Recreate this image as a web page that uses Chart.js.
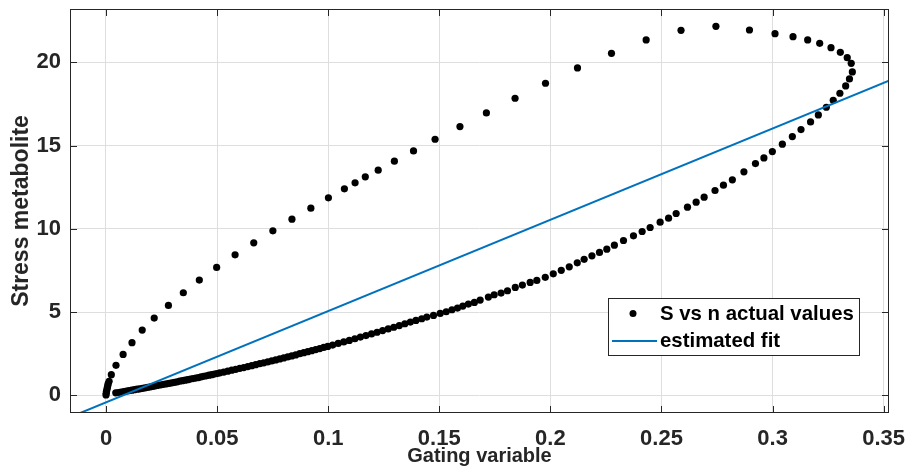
<!DOCTYPE html>
<html><head><meta charset="utf-8">
<script src="https://cdn.jsdelivr.net/npm/chart.js@4.4.0/dist/chart.umd.min.js"></script>
<style>html,body{margin:0;padding:0;background:#fff;}#wrap{width:907px;height:469px;}</style>
</head><body><div id="wrap"><canvas id="c" width="907" height="469"></canvas></div>
<script>
const seriesLabels = ['S vs n actual values', 'estimated fit'];
const xAxisTitle = 'Gating variable';
const yAxisTitle = 'Stress metabolite';

// S vs n actual values (gating variable n, stress metabolite S)
const gatingN = [
 0.0000,0.0001,0.0002,0.0004,0.0006,0.0008,0.0010,0.0014,0.0024,0.0045,
 0.0077,0.0117,0.0163,0.0217,0.0281,0.0348,0.0420,0.0498,0.0581,0.0665,
 0.0751,0.0837,0.0922,0.1001,0.1073,0.1121,0.1167,0.1225,0.1298,0.1384,
 0.1481,0.1593,0.1712,0.1841,0.1978,0.2122,0.2275,0.2431,0.2588,0.2745,
 0.2896,0.3011,0.3092,0.3158,0.3212,0.3263,0.3305,0.3336,0.3354,0.3359,
 0.3346,0.3329,0.3303,0.3273,0.3242,0.3206,0.3171,0.3128,0.3089,0.3044,
 0.2999,0.2961,0.2923,0.2871,0.2819,0.2779,0.2741,0.2692,0.2656,0.2617,
 0.2566,0.2532,0.2494,0.2449,0.2413,0.2374,0.2329,0.2288,0.2254,0.2221,
 0.2187,0.2152,0.2121,0.2085,0.2049,0.2013,0.1977,0.1939,0.1909,0.1874,
 0.1842,0.1807,0.1778,0.1747,0.1721,0.1684,0.1658,0.1631,0.1606,0.1582,
 0.1557,0.1531,0.1504,0.1474,0.1444,0.1421,
 0.1395,0.1370,0.1345,0.1320,0.1295,0.1270,0.1245,0.1220,0.1195,0.1170,0.1145,0.1120,0.1095,0.1070,0.1045,0.1020,
 0.0998,0.0980,0.0962,0.0944,0.0926,0.0908,0.0890,0.0872,0.0854,0.0836,0.0818,0.0800,0.0782,0.0764,
 0.0746,0.0728,0.0710,0.0692,0.0674,0.0656,0.0638,0.0620,0.0602,0.0584,0.0566,0.0548,0.0530,0.0512,
 0.0500,0.0488,0.0476,0.0464,0.0452,0.0440,0.0428,0.0416,0.0404,0.0392,0.0380,0.0368,0.0356,0.0344,
 0.0332,0.0320,0.0308,0.0296,0.0284,0.0272,0.0260,0.0248,0.0236,0.0224,0.0212,0.0200,0.0188,0.0176,
 0.0164,0.0152,0.0140,0.0128,0.0116,0.0104,0.0092,0.0080,0.0068,0.0056,0.0044
];
const stressS = [
 0.02,0.12,0.23,0.34,0.46,0.58,0.70,0.84,1.24,1.80,
 2.46,3.16,3.92,4.64,5.40,6.16,6.92,7.68,8.44,9.16,
 9.88,10.58,11.24,11.86,12.40,12.76,13.12,13.52,14.06,14.68,
 15.38,16.14,16.96,17.84,18.74,19.66,20.54,21.34,21.92,22.16,
 21.94,21.72,21.54,21.34,21.14,20.88,20.60,20.28,19.94,19.42,
 19.00,18.58,18.14,17.72,17.30,16.84,16.42,15.96,15.54,15.08,
 14.64,14.26,13.92,13.42,12.94,12.62,12.30,11.90,11.60,11.30,
 10.92,10.64,10.40,10.08,9.84,9.58,9.30,9.02,8.78,8.58,
 8.38,8.17,7.96,7.72,7.51,7.30,7.09,6.90,6.78,6.62,
 6.48,6.28,6.14,6.04,5.90,5.72,5.58,5.48,5.36,5.24,
 5.14,5.02,4.92,4.80,4.70,4.60,
 4.50,4.40,4.30,4.19,4.09,3.99,3.89,3.79,3.69,3.59,3.50,3.40,3.30,3.21,3.12,3.02,
 2.94,2.88,2.81,2.75,2.68,2.62,2.56,2.50,2.43,2.37,2.31,2.25,2.19,2.13,
 2.07,2.01,1.95,1.90,1.84,1.78,1.73,1.67,1.62,1.56,1.51,1.45,1.40,1.35,
 1.31,1.28,1.24,1.21,1.17,1.14,1.11,1.07,1.04,1.01,0.98,0.94,0.91,0.88,
 0.85,0.81,0.78,0.75,0.72,0.69,0.66,0.63,0.60,0.57,0.54,0.51,0.48,0.45,
 0.42,0.39,0.37,0.34,0.31,0.28,0.25,0.23,0.20,0.17,0.15
];

// estimated fit (straight line end points)
const fitN = [-0.0162, 0.3524];
const fitS = [-1.31, 18.90];

const xTickValues = [0, 0.05, 0.1, 0.15, 0.2, 0.25, 0.3, 0.35];
const xTickLabels = ['0', '0.05', '0.1', '0.15', '0.2', '0.25', '0.3', '0.35'];
const yTickValues = [0, 5, 10, 15, 20];
const yTickLabels = ['0', '5', '10', '15', '20'];

const INK = '#262626';
const FONT = '"Liberation Sans", Arial, Helvetica, sans-serif';
Chart.defaults.font.family = FONT;

const boxPlugin = {
  id: 'matlabBox',
  afterDatasetsDraw(chart) {
    const {ctx, chartArea: a, scales} = chart;
    ctx.save();
    ctx.strokeStyle = INK;
    ctx.lineWidth = 1;
    ctx.beginPath();
    const TL = 7;
    xTickValues.forEach(v => {
      const px = Math.round(scales.x.getPixelForValue(v)) + 0.5;
      ctx.moveTo(px, a.bottom); ctx.lineTo(px, a.bottom - TL);
      ctx.moveTo(px, a.top); ctx.lineTo(px, a.top + TL);
    });
    yTickValues.forEach(v => {
      const py = Math.round(scales.y.getPixelForValue(v)) + 0.5;
      ctx.moveTo(a.left, py); ctx.lineTo(a.left + TL, py);
      ctx.moveTo(a.right, py); ctx.lineTo(a.right - TL, py);
    });
    ctx.stroke();
    ctx.strokeRect(Math.round(a.left) + 0.5, Math.round(a.top) + 0.5,
                   Math.round(a.right - a.left) - 1, Math.round(a.bottom - a.top) - 1);
    ctx.restore();
  }
};

const legendPlugin = {
  id: 'boxLegend',
  afterDraw(chart) {
    const {ctx} = chart;
    const ds = chart.data.datasets;
    const bx = 608, by = 298, bw = 251, bh = 57;
    ctx.save();
    ctx.fillStyle = '#fff';
    ctx.fillRect(bx, by, bw, bh);
    ctx.strokeStyle = INK;
    ctx.lineWidth = 1;
    ctx.strokeRect(bx + 0.5, by + 0.5, bw, bh);
    ctx.fillStyle = '#000';
    ctx.beginPath();
    ctx.arc(633, 313.5, 3.5, 0, Math.PI * 2);
    ctx.fill();
    ctx.strokeStyle = ds[1].borderColor;
    ctx.lineWidth = 2;
    ctx.beginPath();
    ctx.moveTo(612, 341); ctx.lineTo(657, 341);
    ctx.stroke();
    ctx.fillStyle = '#000';
    ctx.font = 'bold 20.4px ' + FONT;
    ctx.textBaseline = 'middle';
    ctx.textAlign = 'left';
    ctx.fillText(ds[0].label, 660, 314);
    ctx.fillText(ds[1].label, 660, 341);
    ctx.restore();
  }
};

new Chart(document.getElementById('c'), {
  type: 'scatter',
  data: {
    datasets: [
      {
        label: seriesLabels[0],
        data: gatingN.map((x, i) => ({x: x, y: stressS[i]})),
        backgroundColor: '#000', borderColor: '#000',
        pointRadius: 3.6, pointBorderWidth: 0, pointHoverRadius: 3.6,
        order: 1
      },
      {
        label: seriesLabels[1],
        type: 'line',
        data: fitN.map((x, i) => ({x: x, y: fitS[i]})),
        borderColor: '#0072BD', backgroundColor: '#0072BD',
        borderWidth: 2, pointRadius: 0, fill: false, tension: 0,
        order: 0
      }
    ]
  },
  options: {
    responsive: false, animation: false, events: [],
    layout: {padding: {left: 0, top: 9, right: 18, bottom: 0}},
    plugins: {legend: {display: false}, tooltip: {enabled: false}},
    scales: {
      x: {
        type: 'linear', min: -0.0162, max: 0.3524,
        afterBuildTicks: s => { s.ticks = xTickValues.map(v => ({value: v})); },
        ticks: {callback: (v, i) => xTickLabels[i], color: INK, font: {size: 22, weight: 'bold'},
                padding: 13, maxRotation: 0, autoSkip: false},
        grid: {color: '#dedede', drawTicks: false, lineWidth: 1},
        border: {display: false},
        title: {display: true, text: xAxisTitle, color: INK, font: {size: 20, weight: 'bold'},
                padding: {top: 0, bottom: 1}},
        afterFit: s => { s.height = 56; s.paddingLeft = 0; s.paddingRight = 0; }
      },
      y: {
        type: 'linear', min: -1.06, max: 23.2,
        afterBuildTicks: s => { s.ticks = yTickValues.map(v => ({value: v})); },
        ticks: {callback: (v, i) => yTickLabels[i], color: INK, font: {size: 22, weight: 'bold'},
                padding: 9, autoSkip: false},
        grid: {color: '#dedede', drawTicks: false, lineWidth: 1},
        border: {display: false},
        title: {display: true, text: yAxisTitle, color: INK, font: {size: 23, weight: 'bold'},
                padding: {top: 8, bottom: 0}},
        afterFit: s => { s.width = 70; s.paddingTop = 0; s.paddingBottom = 0; }
      }
    }
  },
  plugins: [boxPlugin, legendPlugin]
});
</script></body></html>
